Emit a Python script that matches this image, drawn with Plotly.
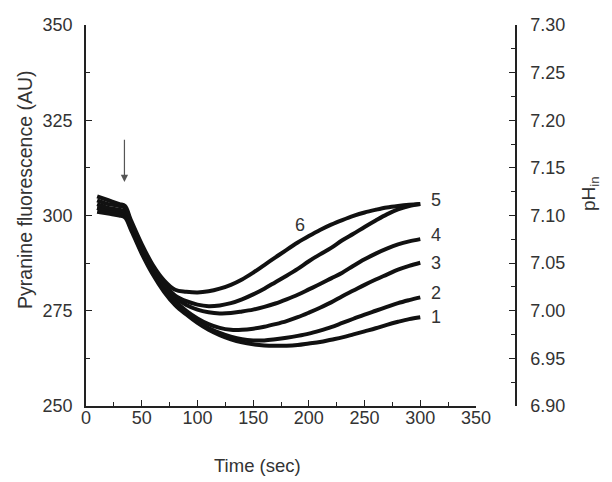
import plotly.graph_objects as go

time_s = [10, 20, 30, 35, 40, 50, 60, 70, 80, 90, 100, 110, 120, 130, 140, 150,
          160, 170, 180, 190, 200, 210, 220, 230, 240, 250, 260, 270, 280, 290, 300]

curve1 = [301, 300.5, 300, 299.5, 296.5, 290, 284.5, 280, 276.5, 274, 271.8, 270, 268.6, 267.5, 266.7, 266.2,
          265.9, 265.8, 265.8, 266, 266.4, 266.8, 267.4, 268, 268.8, 269.6, 270.4, 271.3, 272.1, 272.8, 273.3]
curve2 = [302, 301, 300.5, 300, 297, 290.5, 285, 280.5, 277, 274.5, 272.3, 270.5, 269.2, 268.2, 267.5, 267.2,
          267.2, 267.5, 267.9, 268.4, 269, 269.8, 270.7, 271.8, 272.9, 274, 275, 276, 277, 277.8, 278.5]
curve3 = [302, 301.5, 301, 300.5, 297.5, 291, 285.5, 281, 277.5, 275, 273, 271.5, 270.5, 270, 270, 270.3,
          270.8, 271.5, 272.3, 273.3, 274.5, 275.8, 277.2, 278.8, 280.3, 281.8, 283.2, 284.5, 285.8, 286.8, 287.6]
curve4 = [303, 302, 301.5, 301, 298, 291.5, 286, 281.5, 278.5, 276.5, 275.3, 274.6, 274.3, 274.4, 274.8, 275.3,
          276, 276.9, 278, 279.2, 280.6, 282, 283.5, 285, 286.8, 288.5, 290, 291.3, 292.4, 293.2, 293.8]
curve5 = [304, 303, 302.5, 302, 298.5, 292, 286.5, 282, 279, 277.5, 276.6, 276.2, 276.4, 277, 278, 279.3,
          280.8, 282.5, 284.2, 286, 288, 289.8, 291.5, 293.5, 295.2, 297, 298.7, 300.3, 301.6, 302.5, 303]
curve6 = [305, 304, 303, 302.5, 299, 292.5, 287, 283, 280.5, 280, 279.8, 280.1, 280.8, 281.8, 283.2, 285,
          287, 289, 291, 292.9, 294.6, 296.2, 297.6, 298.8, 299.9, 300.8, 301.5, 302.1, 302.5, 302.8, 303]

curves = [curve1, curve2, curve3, curve4, curve5, curve6]
curve_names = ["1", "2", "3", "4", "5", "6"]
label_x = [308, 308, 308, 308, 308, 186]
label_y = [273.4, 279.7, 287.5, 295.0, 304.0, 297.6]

x_ticks = [0, 50, 100, 150, 200, 250, 300, 350]
y_ticks = [250, 275, 300, 325, 350]
ph_ticks = [6.90, 6.95, 7.00, 7.05, 7.10, 7.15, 7.20, 7.25, 7.30]

arrow_x = 34.5
arrow_head_y = 308.8
arrow_tail_y = 320.3

FONT = "Liberation Sans, Arial, sans-serif"
TXT = "#333333"

fig = go.Figure()
for name, ys in zip(curve_names, curves):
    fig.add_trace(go.Scatter(x=time_s, y=ys, mode="lines", name=name,
                             line=dict(color="#111111", width=4, shape="spline", smoothing=1.0),
                             showlegend=False, hoverinfo="skip"))
# invisible trace to activate the pH axis
fig.add_trace(go.Scatter(x=[None], y=[None], yaxis="y2", showlegend=False))

for n, lx, ly in zip(curve_names, label_x, label_y):
    fig.add_annotation(x=lx, y=ly, text=n, showarrow=False, xanchor="left",
                       font=dict(family=FONT, size=18, color=TXT))

fig.add_annotation(x=arrow_x, y=arrow_head_y, ax=arrow_x, ay=arrow_tail_y, axref="x", ayref="y",
                   xref="x", yref="y", text="", showarrow=True, arrowhead=2, arrowsize=1.2,
                   arrowwidth=1.2, arrowcolor="#555555")

fig.add_annotation(xref="paper", yref="paper", x=-0.142, y=0.567, text="Pyranine fluorescence (AU)",
                   textangle=-90, showarrow=False, xanchor="center", yanchor="middle",
                   font=dict(family=FONT, size=19.5, color=TXT))
fig.add_annotation(xref="paper", yref="paper", x=0.398, y=-0.155, text="Time (sec)",
                   showarrow=False, xanchor="center", yanchor="middle",
                   font=dict(family=FONT, size=18.5, color=TXT))
fig.add_annotation(xref="paper", yref="paper", x=1.172, y=0.559, text="pH<sub>in</sub>",
                   textangle=-90, showarrow=False, xanchor="center", yanchor="middle",
                   font=dict(family=FONT, size=19, color=TXT))

axis_common = dict(showline=True, linecolor="#222222", linewidth=1.5, ticks="inside", ticklen=6,
                   tickwidth=1.3, tickcolor="#222222", showgrid=False, zeroline=False,
                   automargin=False, tickfont=dict(family=FONT, size=18, color=TXT))

fig.update_layout(
    width=604, height=474,
    margin=dict(l=78, r=96, t=17, b=76),
    paper_bgcolor="white", plot_bgcolor="white",
    xaxis=dict(range=[0, 350], domain=[0, 0.907], tickvals=x_ticks, anchor="y",
               minor=dict(ticks="inside", ticklen=4, dtick=25, tickcolor="#222222"),
               ticklabelstandoff=-5, **axis_common),
    yaxis=dict(range=[250, 350], tickvals=y_ticks, anchor="x",
               minor=dict(ticks="inside", ticklen=4, dtick=12.5, tick0=250, tickcolor="#222222"),
               ticklabelstandoff=8, **axis_common),
    yaxis2=dict(range=[6.90, 7.30], tickvals=ph_ticks, ticktext=[f"{v:.2f}" for v in ph_ticks],
                overlaying="y", side="right", anchor="free", position=1.0,
                minor=dict(ticks="inside", ticklen=4, dtick=0.025, tick0=6.9, tickcolor="#222222"),
                ticklabelstandoff=10, **axis_common),
)

fig.write_html("out.html")
